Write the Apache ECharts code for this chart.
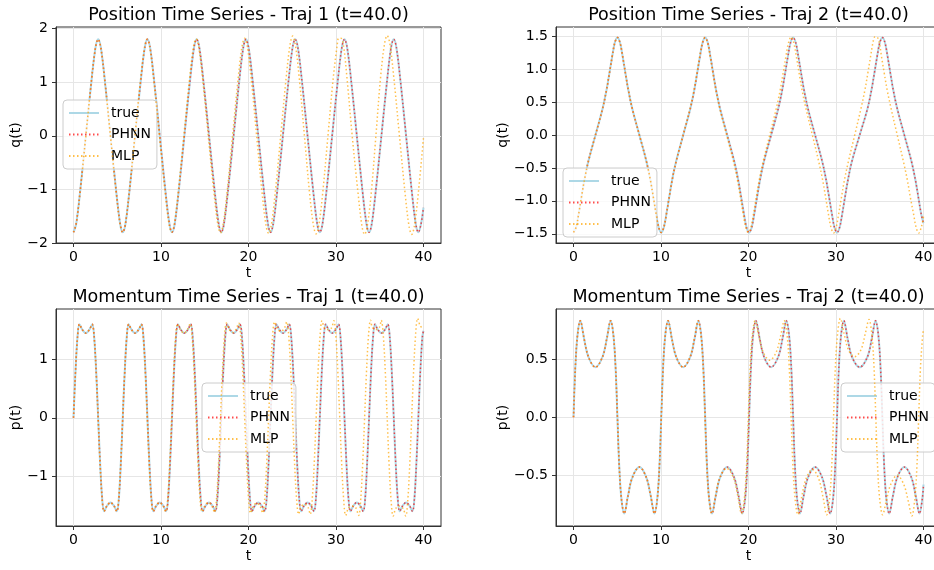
<!DOCTYPE html>
<html>
<head>
<meta charset="utf-8">
<title>Position / Momentum Time Series</title>
<script src="https://cdn.jsdelivr.net/npm/echarts@6.0.0/dist/echarts.min.js"></script>
<style>
  html, body { margin: 0; padding: 0; background: #fff; }
  #main { width: 934px; height: 570px; }
</style>
</head>
<body>
<div id="main"></div>
<script>
// Tick labels of the four panels
const tTicks = [0, 10, 20, 30, 40]
const q1Ticks = [-2, -1, 0, 1, 2]
const q2Ticks = [-1.5, -1, -0.5, 0, 0.5, 1, 1.5]
const p1Ticks = [-1, 0, 1]
const p2Ticks = [-0.5, 0, 0.5]

// Position q(t), trajectory 1 ([t, q])
const trueQ1 = [
  [0, -1.8], [0.3, -1.65], [0.75, -1.05], [1.41, 0], [2.07, 1.05], [2.52, 1.65], [2.82, 1.8],
  [3.12, 1.65], [3.57, 1.05], [4.23, 0], [4.89, -1.05], [5.34, -1.65], [5.63, -1.8],
  [5.93, -1.65], [6.38, -1.05], [7.04, 0], [7.7, 1.05], [8.15, 1.65], [8.45, 1.8],
  [8.75, 1.65], [9.2, 1.05], [9.86, 0], [10.52, -1.05], [10.97, -1.65], [11.26, -1.8],
  [11.56, -1.65], [12.01, -1.05], [12.67, 0], [13.33, 1.05], [13.78, 1.65], [14.08, 1.8],
  [14.38, 1.65], [14.83, 1.05], [15.49, 0], [16.15, -1.05], [16.6, -1.65], [16.89, -1.8],
  [17.19, -1.65], [17.64, -1.05], [18.3, 0], [18.96, 1.05], [19.41, 1.65], [19.71, 1.8],
  [20.01, 1.65], [20.46, 1.05], [21.12, 0], [21.78, -1.05], [22.23, -1.65], [22.52, -1.8],
  [22.82, -1.65], [23.27, -1.05], [23.93, 0], [24.59, 1.05], [25.04, 1.65], [25.34, 1.8],
  [25.64, 1.65], [26.09, 1.05], [26.75, 0], [27.41, -1.05], [27.86, -1.65], [28.15, -1.8],
  [28.45, -1.65], [28.9, -1.05], [29.56, 0], [30.22, 1.05], [30.67, 1.65], [30.97, 1.8],
  [31.27, 1.65], [31.72, 1.05], [32.38, 0], [33.04, -1.05], [33.49, -1.65], [33.78, -1.8],
  [34.08, -1.65], [34.53, -1.05], [35.19, 0], [35.85, 1.05], [36.3, 1.65], [36.6, 1.8],
  [36.9, 1.65], [37.35, 1.05], [38.01, 0], [38.67, -1.05], [39.12, -1.65], [39.41, -1.8],
  [39.71, -1.65], [40, -1.34]
]
// PHNN sits on the true curve at this scale
const phnnQ1 = trueQ1
const mlpQ1 = [
  [0, -1.8], [0.3, -1.65], [0.75, -1.05], [1.41, 0], [2.06, 1.05], [2.51, 1.65], [2.81, 1.8],
  [3.11, 1.65], [3.56, 1.05], [4.22, 0], [4.87, -1.05], [5.32, -1.65], [5.62, -1.8],
  [5.92, -1.65], [6.37, -1.05], [7.02, 0], [7.67, 1.05], [8.12, 1.65], [8.42, 1.8],
  [8.72, 1.65], [9.17, 1.05], [9.82, 0], [10.47, -1.05], [10.92, -1.65], [11.22, -1.8],
  [11.52, -1.65], [11.97, -1.05], [12.61, 0], [13.26, 1.06], [13.71, 1.66], [14.01, 1.81],
  [14.31, 1.66], [14.76, 1.06], [15.4, 0], [16.05, -1.06], [16.5, -1.66], [16.8, -1.81],
  [17.1, -1.66], [17.55, -1.06], [18.18, 0], [18.81, 1.06], [19.26, 1.67], [19.56, 1.82],
  [19.86, 1.67], [20.31, 1.06], [20.93, 0], [21.55, -1.06], [22.0, -1.67], [22.3, -1.82],
  [22.6, -1.67], [23.05, -1.07], [23.68, 0], [24.3, 1.08], [24.75, 1.7], [25.05, 1.86],
  [25.35, 1.7], [25.8, 1.08], [26.39, 0], [26.98, -1.07], [27.43, -1.68], [27.73, -1.83],
  [28.03, -1.68], [28.48, -1.07], [29.08, 0], [29.68, 1.07], [30.13, 1.68], [30.3, 1.82], [30.56, 1.82],
  [30.86, 1.68], [31.26, 1.07], [31.85, 0], [32.52, -1.07], [32.97, -1.69], [33.27, -1.84],
  [33.57, -1.69], [34.02, -1.08], [34.56, 0], [35.1, 1.1], [35.55, 1.72], [35.85, 1.87],
  [36.15, 1.72], [36.6, 1.1], [37.25, 0], [37.9, -1.08], [38.35, -1.69], [38.65, -1.84],
  [38.95, -1.69], [39.4, -1.08], [40, -0.03]
]

// Position q(t), trajectory 2
const trueQ2 = [
  [0, -1.48], [0.3, -1.4], [0.6, -1.19], [0.9, -0.95], [1.25, -0.68], [1.7, -0.4], [2.51, 0],
  [3.32, 0.4], [3.77, 0.68], [4.12, 0.95], [4.42, 1.19], [4.72, 1.4], [5.02, 1.48],
  [5.32, 1.4], [5.62, 1.19], [5.92, 0.95], [6.27, 0.68], [6.72, 0.4], [7.53, 0],
  [8.33, -0.4], [8.78, -0.68], [9.13, -0.95], [9.43, -1.19], [9.73, -1.4], [10.03, -1.48],
  [10.33, -1.4], [10.63, -1.19], [10.93, -0.95], [11.28, -0.68], [11.73, -0.4], [12.54, 0],
  [13.35, 0.4], [13.8, 0.68], [14.15, 0.95], [14.45, 1.19], [14.75, 1.4], [15.05, 1.48],
  [15.35, 1.4], [15.65, 1.19], [15.95, 0.95], [16.3, 0.68], [16.75, 0.4], [17.56, 0],
  [18.37, -0.4], [18.82, -0.68], [19.17, -0.95], [19.47, -1.19], [19.77, -1.4], [20.07, -1.48],
  [20.37, -1.4], [20.67, -1.19], [20.97, -0.95], [21.32, -0.68], [21.77, -0.4], [22.59, 0],
  [23.4, 0.4], [23.85, 0.68], [24.2, 0.95], [24.5, 1.19], [24.8, 1.4], [25.1, 1.48],
  [25.4, 1.4], [25.7, 1.19], [26.0, 0.95], [26.35, 0.68], [26.8, 0.4], [27.61, 0],
  [28.42, -0.4], [28.87, -0.68], [29.22, -0.95], [29.52, -1.19], [29.82, -1.4], [30.12, -1.48],
  [30.42, -1.4], [30.72, -1.19], [31.02, -0.95], [31.37, -0.68], [31.82, -0.4], [32.71, 0],
  [33.6, 0.4], [34.05, 0.68], [34.4, 0.95], [34.7, 1.19], [35.0, 1.4], [35.3, 1.48],
  [35.6, 1.4], [35.9, 1.19], [36.2, 0.95], [36.55, 0.68], [37.0, 0.4], [37.81, 0],
  [38.62, -0.4], [39.07, -0.68], [39.42, -0.95], [39.72, -1.19], [40, -1.34]
]
const phnnQ2 = trueQ2
const mlpQ2 = [
  [0, -1.48], [0.3, -1.4], [0.6, -1.19], [0.9, -0.95], [1.25, -0.68], [1.7, -0.4], [2.51, 0],
  [3.32, 0.4], [3.77, 0.68], [4.12, 0.95], [4.42, 1.19], [4.72, 1.4], [5.02, 1.48],
  [5.32, 1.4], [5.62, 1.19], [5.92, 0.95], [6.27, 0.68], [6.72, 0.4], [7.53, 0],
  [8.33, -0.4], [8.78, -0.68], [9.13, -0.95], [9.43, -1.19], [9.73, -1.4], [10.03, -1.48],
  [10.33, -1.4], [10.63, -1.19], [10.93, -0.95], [11.28, -0.68], [11.73, -0.4], [12.53, 0],
  [13.32, 0.4], [13.77, 0.68], [14.12, 0.95], [14.42, 1.19], [14.72, 1.4], [15.02, 1.48],
  [15.32, 1.4], [15.62, 1.19], [15.92, 0.95], [16.27, 0.68], [16.72, 0.4], [17.5, 0],
  [18.28, -0.4], [18.73, -0.68], [19.08, -0.95], [19.38, -1.19], [19.68, -1.4], [19.98, -1.48],
  [20.28, -1.4], [20.58, -1.19], [20.88, -0.95], [21.23, -0.68], [21.68, -0.4], [22.43, 0],
  [23.17, 0.4], [23.62, 0.68], [23.97, 0.95], [24.27, 1.19], [24.57, 1.4], [24.87, 1.49],
  [25.17, 1.4], [25.47, 1.19], [25.77, 0.95], [26.12, 0.68], [26.57, 0.4], [27.3, 0],
  [28.02, -0.4], [28.47, -0.68], [28.82, -0.95], [29.12, -1.19], [29.42, -1.4], [29.72, -1.49],
  [30.02, -1.4], [30.32, -1.19], [30.62, -0.95], [30.97, -0.68], [31.42, -0.4], [32.14, 0],
  [32.85, 0.4], [33.3, 0.68], [33.65, 0.95], [33.95, 1.19], [34.25, 1.42], [34.45, 1.49], [34.65, 1.49],
  [34.95, 1.4], [35.2, 1.19], [35.5, 0.95], [35.85, 0.68], [36.3, 0.4], [37.0, 0],
  [37.7, -0.4], [38.15, -0.68], [38.5, -0.95], [38.85, -1.19], [39.15, -1.4], [39.45, -1.49],
  [39.75, -1.4], [40, -1.24]
]

// Momentum p(t), trajectory 1
const trueP1 = [
  [0, 0], [0.2, 0.7], [0.45, 1.36], [0.68, 1.59], [1.0, 1.5], [1.41, 1.44], [1.82, 1.5], [2.14, 1.59], [2.37, 1.36], [2.62, 0.7],
  [2.82, 0], [3.02, -0.7], [3.27, -1.36], [3.5, -1.59], [3.82, -1.5], [4.23, -1.44], [4.64, -1.5], [4.96, -1.59], [5.19, -1.36], [5.43, -0.7],
  [5.63, 0], [5.83, 0.7], [6.08, 1.36], [6.31, 1.59], [6.63, 1.5], [7.04, 1.44], [7.45, 1.5], [7.77, 1.59], [8.0, 1.36], [8.25, 0.7],
  [8.45, 0], [8.65, -0.7], [8.9, -1.36], [9.13, -1.59], [9.45, -1.5], [9.86, -1.44], [10.27, -1.5], [10.59, -1.59], [10.82, -1.36], [11.06, -0.7],
  [11.26, 0], [11.46, 0.7], [11.71, 1.36], [11.94, 1.59], [12.26, 1.5], [12.67, 1.44], [13.08, 1.5], [13.4, 1.59], [13.63, 1.36], [13.88, 0.7],
  [14.08, 0], [14.28, -0.7], [14.53, -1.36], [14.76, -1.59], [15.08, -1.5], [15.49, -1.44], [15.9, -1.5], [16.22, -1.59], [16.45, -1.36], [16.69, -0.7],
  [16.89, 0], [17.09, 0.7], [17.34, 1.36], [17.57, 1.59], [17.89, 1.5], [18.3, 1.44], [18.71, 1.5], [19.03, 1.59], [19.26, 1.36], [19.51, 0.7],
  [19.71, 0], [19.91, -0.7], [20.16, -1.36], [20.39, -1.59], [20.71, -1.5], [21.12, -1.44], [21.53, -1.5], [21.85, -1.59], [22.08, -1.36], [22.32, -0.7],
  [22.52, 0], [22.72, 0.7], [22.97, 1.36], [23.2, 1.59], [23.52, 1.5], [23.93, 1.44], [24.34, 1.5], [24.66, 1.59], [24.89, 1.36], [25.14, 0.7],
  [25.34, 0], [25.54, -0.7], [25.79, -1.36], [26.02, -1.59], [26.34, -1.5], [26.75, -1.44], [27.16, -1.5], [27.48, -1.59], [27.71, -1.36], [27.95, -0.7],
  [28.15, 0], [28.35, 0.7], [28.6, 1.36], [28.83, 1.59], [29.15, 1.5], [29.56, 1.44], [29.97, 1.5], [30.29, 1.59], [30.52, 1.36], [30.77, 0.7],
  [30.97, 0], [31.17, -0.7], [31.42, -1.36], [31.65, -1.59], [31.97, -1.5], [32.38, -1.44], [32.79, -1.5], [33.11, -1.59], [33.34, -1.36], [33.58, -0.7],
  [33.78, 0], [33.98, 0.7], [34.23, 1.36], [34.46, 1.59], [34.78, 1.5], [35.19, 1.44], [35.6, 1.5], [35.92, 1.59], [36.15, 1.36], [36.4, 0.7],
  [36.6, 0], [36.8, -0.7], [37.05, -1.36], [37.28, -1.59], [37.6, -1.5], [38.01, -1.44], [38.42, -1.5], [38.74, -1.59], [38.97, -1.36], [39.21, -0.7],
  [39.41, 0], [39.61, 0.7], [39.86, 1.36], [40, 1.48]
]
const phnnP1 = trueP1
const mlpP1 = [
  [0, 0], [0.2, 0.7], [0.45, 1.36], [0.68, 1.59], [1.0, 1.5], [1.41, 1.44], [1.81, 1.5], [2.13, 1.59], [2.36, 1.36], [2.61, 0.7],
  [2.81, 0], [3.01, -0.7], [3.26, -1.36], [3.49, -1.59], [3.81, -1.5], [4.22, -1.44], [4.62, -1.5], [4.94, -1.59], [5.17, -1.36], [5.42, -0.7],
  [5.62, 0], [5.82, 0.7], [6.07, 1.36], [6.3, 1.59], [6.61, 1.5], [7.02, 1.44], [7.43, 1.5], [7.74, 1.59], [7.97, 1.36], [8.22, 0.7],
  [8.42, 0], [8.62, -0.7], [8.87, -1.36], [9.1, -1.59], [9.41, -1.5], [9.82, -1.44], [10.23, -1.5], [10.54, -1.6], [10.77, -1.37], [11.02, -0.7],
  [11.22, 0], [11.42, 0.7], [11.67, 1.37], [11.9, 1.6], [12.21, 1.5], [12.62, 1.44], [13.02, 1.5], [13.33, 1.6], [13.56, 1.37], [13.81, 0.7],
  [14.01, 0], [14.21, -0.7], [14.46, -1.37], [14.69, -1.6], [15.0, -1.5], [15.41, -1.44], [15.81, -1.5], [16.12, -1.61], [16.35, -1.37], [16.6, -0.7],
  [16.8, 0], [17.0, 0.71], [17.25, 1.38], [17.48, 1.61], [17.77, 1.51], [18.18, 1.45], [18.59, 1.51], [18.88, 1.61], [19.11, 1.38], [19.36, 0.71],
  [19.56, 0], [19.76, -0.71], [20.01, -1.38], [20.24, -1.62], [20.52, -1.51], [20.93, -1.45], [21.34, -1.51], [21.62, -1.62], [21.85, -1.38], [22.1, -0.71],
  [22.3, 0], [22.5, 0.72], [22.75, 1.39], [22.98, 1.63], [23.27, 1.52], [23.68, 1.47], [24.09, 1.52], [24.37, 1.63], [24.6, 1.39], [24.85, 0.72],
  [25.05, 0], [25.25, -0.72], [25.5, -1.39], [25.73, -1.64], [25.98, -1.52], [26.39, -1.47], [26.8, -1.52], [27.05, -1.64], [27.28, -1.39], [27.53, -0.72],
  [27.73, 0], [27.93, 0.72], [28.18, 1.4], [28.41, 1.65], [28.67, 1.53], [29.08, 1.5], [29.49, 1.53], [29.75, 1.65], [29.98, 1.4], [30.23, 0.72],
  [30.43, 0], [30.63, -0.72], [30.88, -1.4], [31.11, -1.66], [31.44, -1.53], [31.85, -1.5], [32.26, -1.53], [32.59, -1.66], [32.82, -1.4], [33.07, -0.72],
  [33.27, 0], [33.47, 0.73], [33.72, 1.41], [33.95, 1.66], [34.15, 1.54], [34.56, 1.5], [34.97, 1.54], [35.17, 1.66], [35.4, 1.41], [35.65, 0.73],
  [35.85, 0], [36.05, -0.73], [36.3, -1.41], [36.53, -1.67], [36.84, -1.54], [37.25, -1.5], [37.66, -1.54], [37.97, -1.67], [38.2, -1.41], [38.45, -0.73],
  [38.65, 0], [38.85, 0.73], [39.1, 1.42], [39.33, 1.69], [39.64, 1.56], [40, 1.52]
]

// Momentum p(t), trajectory 2
const trueP2 = [
  [0, 0], [0.2, 0.41], [0.45, 0.7], [0.78, 0.83], [1.2, 0.68], [1.7, 0.52], [2.51, 0.43], [3.32, 0.52], [3.82, 0.68], [4.24, 0.83], [4.57, 0.7], [4.82, 0.41],
  [5.02, 0], [5.22, -0.41], [5.47, -0.7], [5.8, -0.83], [6.22, -0.68], [6.72, -0.52], [7.53, -0.43], [8.33, -0.52], [8.83, -0.68], [9.25, -0.83], [9.58, -0.7], [9.83, -0.41],
  [10.03, 0], [10.23, 0.41], [10.48, 0.7], [10.81, 0.83], [11.23, 0.68], [11.73, 0.52], [12.54, 0.43], [13.35, 0.52], [13.85, 0.68], [14.27, 0.83], [14.6, 0.7], [14.85, 0.41],
  [15.05, 0], [15.25, -0.41], [15.5, -0.7], [15.83, -0.83], [16.25, -0.68], [16.75, -0.52], [17.56, -0.43], [18.37, -0.52], [18.87, -0.68], [19.29, -0.83], [19.62, -0.7], [19.87, -0.41],
  [20.07, 0], [20.27, 0.41], [20.52, 0.7], [20.85, 0.83], [21.27, 0.68], [21.77, 0.52], [22.59, 0.43], [23.4, 0.52], [23.9, 0.68], [24.32, 0.83], [24.65, 0.7], [24.9, 0.41],
  [25.1, 0], [25.3, -0.41], [25.55, -0.7], [25.88, -0.83], [26.3, -0.68], [26.8, -0.52], [27.61, -0.43], [28.42, -0.52], [28.92, -0.68], [29.34, -0.83], [29.67, -0.7], [29.92, -0.41],
  [30.12, 0], [30.32, 0.41], [30.57, 0.7], [30.9, 0.83], [31.32, 0.68], [31.82, 0.52], [32.71, 0.43], [33.6, 0.52], [34.1, 0.68], [34.52, 0.83], [34.85, 0.7], [35.1, 0.41],
  [35.3, 0], [35.5, -0.41], [35.75, -0.7], [36.08, -0.83], [36.5, -0.68], [37.0, -0.52], [37.81, -0.43], [38.62, -0.52], [39.12, -0.68], [39.54, -0.83], [39.87, -0.7], [40, -0.58]
]
const phnnP2 = trueP2
const mlpP2 = [
  [0, 0], [0.2, 0.41], [0.45, 0.7], [0.78, 0.83], [1.2, 0.68], [1.7, 0.52], [2.51, 0.43], [3.32, 0.52], [3.82, 0.68], [4.24, 0.83], [4.57, 0.7], [4.82, 0.41],
  [5.02, 0], [5.22, -0.41], [5.47, -0.7], [5.8, -0.83], [6.22, -0.68], [6.72, -0.52], [7.53, -0.43], [8.33, -0.52], [8.83, -0.68], [9.25, -0.83], [9.58, -0.7], [9.83, -0.41],
  [10.03, 0], [10.23, 0.41], [10.48, 0.7], [10.81, 0.83], [11.23, 0.68], [11.73, 0.52], [12.53, 0.43], [13.32, 0.52], [13.82, 0.68], [14.24, 0.83], [14.57, 0.7], [14.82, 0.41],
  [15.02, 0], [15.22, -0.41], [15.47, -0.7], [15.8, -0.83], [16.22, -0.68], [16.72, -0.52], [17.5, -0.44], [18.28, -0.52], [18.78, -0.68], [19.2, -0.83], [19.53, -0.7], [19.78, -0.41],
  [19.98, 0], [20.18, 0.41], [20.43, 0.7], [20.76, 0.83], [21.18, 0.7], [21.68, 0.56], [22.43, 0.49], [23.17, 0.56], [23.67, 0.7], [24.09, 0.83], [24.42, 0.7], [24.67, 0.41],
  [24.87, 0], [25.07, -0.41], [25.32, -0.7], [25.65, -0.84], [26.07, -0.69], [26.57, -0.53], [27.3, -0.45], [28.02, -0.53], [28.52, -0.69], [28.94, -0.84], [29.27, -0.7], [29.52, -0.41],
  [29.72, 0], [29.92, 0.42], [30.17, 0.71], [30.5, 0.85], [30.92, 0.72], [31.42, 0.58], [32.14, 0.52], [32.85, 0.58], [33.35, 0.72], [33.77, 0.84], [34.1, 0.71], [34.35, 0.42],
  [34.55, 0], [34.75, -0.42], [35.0, -0.71], [35.33, -0.84], [35.75, -0.72], [36.25, -0.58], [37.0, -0.5], [37.75, -0.58], [38.25, -0.72], [38.67, -0.85], [39.0, -0.71], [39.25, -0.42],
  [39.45, 0], [39.65, 0.42], [39.9, 0.7], [40, 0.76]
]

const FONT = 'DejaVu Sans'
const MINUS = '\u2212'

// one entry per panel: layout (px) + axis ranges
const panels = [
  { title: 'Position Time Series - Traj 1 (t=40.0)', left: 56, top: 27, height: 216, yMin: -2.0, yMax: 2.03, ticks: q1Ticks, digits: 0, yName: 'q(t)', yGap: 33, legend: [63, 100] },
  { title: 'Position Time Series - Traj 2 (t=40.0)', left: 556, top: 27, height: 216, yMin: -1.64, yMax: 1.64, ticks: q2Ticks, digits: 1, yName: 'q(t)', yGap: 46, legend: [563, 168] },
  { title: 'Momentum Time Series - Traj 1 (t=40.0)', left: 56, top: 309, height: 217, yMin: -1.84, yMax: 1.85, ticks: p1Ticks, digits: 0, yName: 'p(t)', yGap: 33, legend: [202, 383] },
  { title: 'Momentum Time Series - Traj 2 (t=40.0)', left: 556, top: 309, height: 217, yMin: -0.937, yMax: 0.931, ticks: p2Ticks, digits: 1, yName: 'p(t)', yGap: 46, legend: [841, 383] },
]
const seriesData = [
  [trueQ1, phnnQ1, mlpQ1],
  [trueQ2, phnnQ2, mlpQ2],
  [trueP1, phnnP1, mlpP1],
  [trueP2, phnnP2, mlpP2],
]
const PLOT_W = 385

function fmt(digits) {
  return v => (digits ? v.toFixed(digits) : String(Math.round(v))).replace('-', MINUS)
}

const axisText = { fontFamily: FONT, fontSize: 14, color: '#000' }
const frameColor = '#333'

let grids = [], xAxes = [], yAxes = [], titles = [], legends = [], series = []

panels.forEach((pn, i) => {
  grids.push({
    left: pn.left, top: pn.top, width: PLOT_W, height: pn.height,
    show: true, borderColor: frameColor, borderWidth: 1, backgroundColor: '#fff',
    containLabel: false, outerBoundsMode: 'none',
  })
  titles.push({
    text: pn.title, left: pn.left + PLOT_W / 2, top: pn.top - 21, textAlign: 'center', padding: 0,
    textStyle: { fontFamily: FONT, fontSize: 17.5, fontWeight: 'normal', color: '#000' },
  })
  xAxes.push({
    type: 'value', gridIndex: i, min: -2, max: 42,
    name: 't', nameLocation: 'middle', nameGap: 23, nameTextStyle: axisText,
    axisLine: { show: true, onZero: false, lineStyle: { color: frameColor, width: 1 } },
    axisTick: { show: true, inside: false, length: 4, customValues: tTicks, lineStyle: { color: frameColor } },
    axisLabel: { customValues: tTicks, margin: 7, formatter: fmt(0), ...axisText },
    splitLine: { show: true, lineStyle: { color: '#e6e6e6', width: 1 } },
  })
  yAxes.push({
    type: 'value', gridIndex: i, min: pn.yMin, max: pn.yMax,
    name: pn.yName, nameLocation: 'middle', nameGap: pn.yGap, nameTextStyle: axisText,
    axisLine: { show: true, onZero: false, lineStyle: { color: frameColor, width: 1 } },
    axisTick: { show: true, inside: false, length: 4, customValues: pn.ticks, lineStyle: { color: frameColor } },
    axisLabel: { customValues: pn.ticks, margin: 8, formatter: fmt(pn.digits), ...axisText },
    splitLine: { show: true, lineStyle: { color: '#e6e6e6', width: 1 } },
  })
  legends.push({
    left: pn.legend[0], top: pn.legend[1], orient: 'vertical',
    data: ['true', 'PHNN', 'MLP'],
    itemWidth: 30, itemHeight: 14, itemGap: 7.5,
    padding: [6, 6, 6, 5],
    backgroundColor: 'rgba(255,255,255,0.8)', borderColor: '#cccccc', borderWidth: 1, borderRadius: 4,
    itemStyle: { opacity: 0 },
    textStyle: { fontFamily: FONT, fontSize: 14, color: '#000', padding: [0, 0, 0, 7] },
    selectedMode: false,
  })
  const [tr, ph, ml] = seriesData[i]
  const common = {
    type: 'line', xAxisIndex: i, yAxisIndex: i, symbol: 'none', showSymbol: false,
    smooth: 0.35, silent: true, emphasis: { disabled: true },
  }
  series.push({ ...common, name: 'true', data: tr, z: 2,
    itemStyle: { color: '#add8e6' }, lineStyle: { color: '#add8e6', width: 2 } })
  series.push({ ...common, name: 'PHNN', data: ph, z: 3,
    itemStyle: { color: '#ff0000' }, lineStyle: { color: '#ff0000', opacity: 0.7, width: 1.5, type: [1.5, 2.5] } })
  series.push({ ...common, name: 'MLP', data: ml, z: 4,
    itemStyle: { color: '#ffa500' }, lineStyle: { color: '#ffa500', opacity: 0.7, width: 1.5, type: [1.5, 2.5] } })
})

let myChart = echarts.init(document.getElementById('main'), null, { renderer: 'canvas' })
myChart.setOption({
  animation: false,
  backgroundColor: '#fff',
  title: titles,
  legend: legends,
  grid: grids,
  xAxis: xAxes,
  yAxis: yAxes,
  series: series,
})
</script>
</body>
</html>
